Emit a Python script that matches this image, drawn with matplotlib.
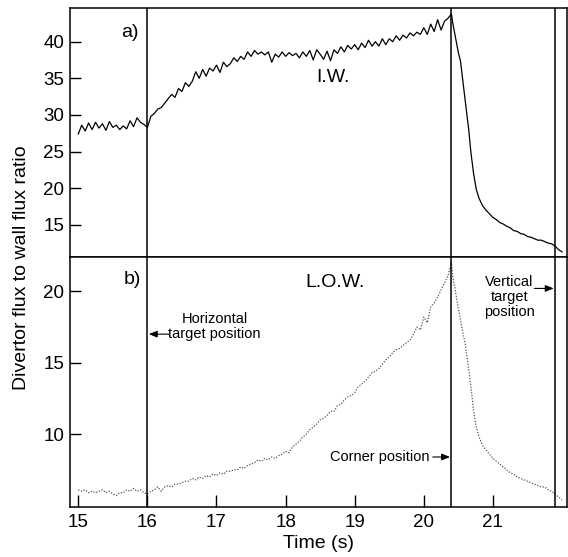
import numpy as np
import matplotlib
matplotlib.use("Agg")
import matplotlib.pyplot as plt

plt.rcParams['font.family'] = ['Liberation Sans', 'DejaVu Sans']

# sampling grid of the rising part (15.00 .. 20.40 s, every 0.05 s)
t_rise = np.round(np.arange(15.0, 20.401, 0.05), 2)

# I.W. ratio (panel a)
iw_rise = [27.4, 28.6, 27.8, 28.9, 28.0, 29.0, 28.2, 28.8, 27.9, 29.1,
           28.3, 28.6, 28.0, 28.5, 28.1, 29.2, 28.4, 29.6, 29.0, 28.7,
           28.3, 29.8, 30.2, 30.8, 31.0, 31.6, 32.2, 32.8, 32.4, 33.6,
           33.2, 34.4, 33.9, 34.6, 35.9, 35.0, 36.2, 35.3, 36.4, 36.0,
           36.8, 35.8, 37.2, 36.6, 37.0, 37.8, 37.3, 38.0, 37.6, 38.6,
           38.0, 38.8, 38.3, 38.6, 38.2, 38.6, 37.2, 38.3, 37.9, 38.6,
           38.0, 38.5, 38.1, 38.4, 37.8, 38.6, 38.0, 38.8, 37.5, 38.9,
           38.3, 37.6, 38.7, 37.4, 38.9, 38.4, 39.3, 38.6, 39.5, 39.0,
           39.6, 38.9, 39.8, 39.2, 40.2, 39.4, 40.0, 39.4, 40.4, 39.6,
           40.4, 40.0, 40.8, 40.2, 40.9, 40.5, 41.2, 40.8, 41.3, 41.0,
           41.9, 41.0, 42.4, 41.4, 43.0, 41.6, 42.8, 43.2, 43.8]
t_fall = [20.42, 20.45, 20.50, 20.53, 20.56, 20.59, 20.62, 20.65, 20.68, 20.72,
          20.76, 20.80, 20.85, 20.90, 20.95, 21.00, 21.05, 21.10, 21.15, 21.20,
          21.25, 21.30, 21.35, 21.40, 21.45, 21.50, 21.55, 21.60, 21.65, 21.70,
          21.75, 21.80, 21.85, 21.90, 21.95, 22.00]
iw_fall = [42.5, 41.0, 38.5, 37.4, 35.0, 32.5, 30.3, 28.0, 25.0, 22.0,
           19.8, 18.6, 17.6, 17.0, 16.5, 16.0, 15.7, 15.3, 15.1, 14.8,
           14.6, 14.2, 14.1, 13.8, 13.7, 13.4, 13.3, 13.1, 12.9, 12.9,
           12.7, 12.5, 12.4, 12.1, 11.6, 11.3]

# L.O.W. ratio (panel b)
low_rise = [6.1, 6.0, 6.1, 5.9, 6.0, 5.9, 6.0, 6.1, 5.9, 6.0,
            5.8, 5.7, 5.9, 5.9, 6.1, 6.0, 6.2, 6.0, 6.1, 5.9,
            5.8, 6.0, 6.1, 6.3, 6.0, 6.3, 6.4, 6.3, 6.5, 6.5,
            6.6, 6.7, 6.7, 6.9, 6.8, 7.0, 6.9, 7.1, 7.0, 7.2,
            7.1, 7.3, 7.2, 7.4, 7.4, 7.5, 7.5, 7.7, 7.6, 7.8,
            7.9, 8.0, 8.2, 8.1, 8.3, 8.2, 8.4, 8.3, 8.5, 8.6,
            8.8, 8.7, 9.1, 9.3, 9.5, 9.8, 10.0, 10.3, 10.5, 10.7,
            11.0, 11.1, 11.3, 11.6, 11.6, 12.0, 12.1, 12.4, 12.6, 12.7,
            12.9, 13.3, 13.5, 13.7, 14.0, 14.3, 14.4, 14.6, 14.9, 15.2,
            15.4, 15.7, 15.9, 16.0, 16.2, 16.4, 16.6, 17.0, 17.5, 17.3,
            18.2, 17.8, 18.9, 19.2, 19.6, 20.1, 20.6, 21.1, 22.0]
t_fall_b = [20.42, 20.45, 20.50, 20.55, 20.60, 20.63, 20.66, 20.69, 20.72, 20.76,
            20.80, 20.85, 20.90, 20.95, 21.00, 21.05, 21.10, 21.15, 21.20, 21.25,
            21.30, 21.35, 21.40, 21.45, 21.50, 21.55, 21.60, 21.65, 21.70, 21.75,
            21.80, 21.85, 21.90, 21.95, 22.00]
low_fall = [21.0, 20.2, 18.8, 17.5, 16.3, 15.2, 14.2, 13.0, 11.6, 10.5,
            9.8, 9.2, 8.9, 8.6, 8.3, 8.1, 7.9, 7.7, 7.5, 7.3,
            7.2, 7.0, 6.9, 6.8, 6.7, 6.6, 6.5, 6.4, 6.3, 6.3,
            6.1, 6.0, 5.8, 5.6, 5.4]

# marker positions (s)
t_horizontal = 16.0
t_corner = 20.4
t_vertical = 21.9

fig = plt.figure(figsize=(5.68, 5.57), dpi=100)
ax1 = fig.add_axes([0.1232, 0.5386, 0.8748, 0.4470])
ax2 = fig.add_axes([0.1232, 0.0898, 0.8748, 0.4488], sharex=ax1)

ax1.plot(list(t_rise) + t_fall, iw_rise + iw_fall, color='black', lw=0.9)
ax2.plot(list(t_rise) + t_fall_b, low_rise + low_fall, color='#555555',
         lw=0.9, ls=(0, (1, 1.3)))

for ax in (ax1, ax2):
    for t in (t_horizontal, t_corner, t_vertical):
        ax.axvline(t, color='black', lw=1.1)
    for s in ax.spines.values():
        s.set_linewidth(1.1)

ax1.set_xlim(14.88, 22.07)
ax1.set_ylim(10.6, 44.6)
ax2.set_ylim(4.9, 22.4)

ax1.set_yticks([15, 20, 25, 30, 35, 40])
ax2.set_yticks([10, 15, 20])
ax2.set_xticks([15, 16, 17, 18, 19, 20, 21])

ax1.tick_params(axis='x', length=0, labelbottom=False)
ax1.tick_params(axis='y', direction='in', length=8, width=1, labelsize=13.5, pad=4)
ax2.tick_params(axis='y', direction='in', length=8, width=1, labelsize=13.5, pad=4)
ax2.tick_params(axis='x', direction='in', length=9, width=1, labelsize=13.5, pad=5)

ax2.set_xlabel('Time (s)', fontsize=14, labelpad=3)
fig.text(0.037, 0.52, 'Divertor flux to wall flux ratio', rotation=90,
         fontsize=14, ha='center', va='center')

ax1.text(15.75, 41.2, 'a)', fontsize=14, ha='center', va='center')
ax2.text(15.78, 20.8, 'b)', fontsize=14, ha='center', va='center')
ax1.text(18.68, 35.1, 'I.W.', fontsize=14, ha='center', va='center')
ax2.text(18.71, 20.6, 'L.O.W.', fontsize=14, ha='center', va='center')

arrow = dict(arrowstyle='-|>,head_length=0.5,head_width=0.2', color='black', lw=0.8,
             shrinkA=0, shrinkB=0)
ax2.text(16.97, 17.55, 'Horizontal\ntarget position', fontsize=10.5,
         ha='center', va='center', multialignment='center', linespacing=1.1)
ax2.annotate('', xy=(16.02, 17.0), xytext=(16.31, 17.0), arrowprops=arrow)

ax2.text(19.36, 8.4, 'Corner position', fontsize=10.5, ha='center', va='center')
ax2.annotate('', xy=(20.38, 8.4), xytext=(20.13, 8.4), arrowprops=arrow)

ax2.text(21.24, 19.6, 'Vertical\ntarget\nposition', fontsize=10.5,
         ha='center', va='center', multialignment='center', linespacing=1.1)
ax2.annotate('', xy=(21.88, 20.2), xytext=(21.6, 20.2), arrowprops=arrow)

fig.savefig('out.png', dpi=100)
